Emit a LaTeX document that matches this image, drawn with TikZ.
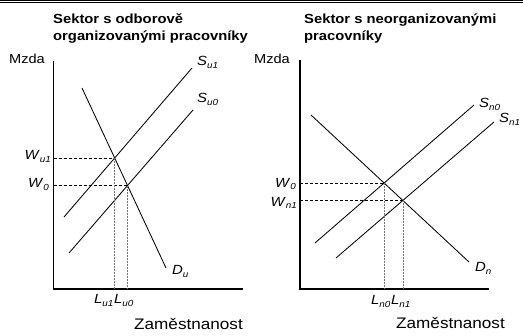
\documentclass[tikz,border=0pt]{standalone}
\usepackage{fontspec}
\usepackage{graphicx}
\setmainfont{Liberation Sans}
\usetikzlibrary{intersections}
\newcommand\hs[1]{\scalebox{1.12}[1]{#1}}
\newcommand\lbl[2]{\hs{\textit{#1}\raisebox{-0.3ex}{\fontsize{8.8}{8.8}\selectfont\textit{#2}}}}
\tikzset{
  curve/.style={line width=0.85pt,black},
  axisthin/.style={line width=1.3pt,black},
  axisthick/.style={line width=2.2pt,black},
  hdash/.style={line width=0.6pt,black,dash pattern=on 3pt off 2pt},
  vdash/.style={line width=0.7pt,black!55,dash pattern=on 2pt off 1pt},
  lab/.style={inner sep=0pt,font=\fontsize{13.3}{13.3}\selectfont},
  axlab/.style={inner sep=0pt,font=\fontsize{13}{13}\selectfont},
  xlab/.style={inner sep=0pt,font=\fontsize{15.3}{15.3}\selectfont},
  ttl/.style={inner sep=0pt,font=\fontsize{13.2}{13.2}\selectfont\bfseries,anchor=base west},
}
\begin{document}
\begin{tikzpicture}[x=1pt,y=-1pt]
\useasboundingbox[fill=white] (0,0) rectangle (523,336);
% top double rule
\draw[line width=1.4pt] (0,0.7) -- (523,0.7);
\draw[line width=0.5pt] (0,2.6) -- (523,2.6);

% ===== Left panel =====
\node[ttl] (t1a) at (53,24) {\hs{Sektor s odborově}};
\node[ttl] (t1b) at (53,41) {\hs{organizovanými pracovníky}};
\node[axlab,anchor=base west] (mzL) at (9,63.5) {\hs{Mzda}};
\node[xlab,anchor=base east] (zaL) at (243,330) {\hs{Zaměstnanost}};

\coordinate (oL) at (53.5,289);
\coordinate (yL) at (53.5,61);
\coordinate (xL) at (243,289);
\draw[axisthin] (yL) -- (oL) -- (xL);

\coordinate (du1) at (82,88);   \coordinate (du2) at (166,268);
\coordinate (su1a) at (64,217); \coordinate (su1b) at (192,68);
\coordinate (su0a) at (69,253); \coordinate (su0b) at (193,110);
\draw[curve,name path=Du] (du1) -- (du2);
\draw[curve,name path=Su1] (su1a) -- (su1b);
\draw[curve,name path=Su0] (su0a) -- (su0b);
\path[name intersections={of=Du and Su1,by=E1}];
\path[name intersections={of=Du and Su0,by=E0}];
\draw[hdash] (E1 -| oL) -- (E1);
\draw[hdash] (E0 -| oL) -- (E0);
\draw[vdash] (E1) -- (E1 |- oL);
\draw[vdash] (E0) -- (E0 |- oL);

\node[lab,anchor=base west] (lsu1) at (197,66) {\lbl{S}{u1}};
\node[lab,anchor=base west] (lsu0) at (197,103) {\lbl{S}{u0}};
\node[lab,anchor=base west] (ldu) at (172,275) {\lbl{D}{u}};
\node[lab,anchor=base east] (lwu1) at (51,160) {\lbl{W}{u1}};
\node[lab,anchor=base east] (lw0L) at (49,188) {\lbl{W}{0}};
\node[lab,anchor=base west] (llu1) at (94,304) {\lbl{L}{u1}};
\node[lab,anchor=base west] (llu0) at (114,304) {\lbl{L}{u0}};

% ===== Right panel =====
\node[ttl] (t2a) at (304,24) {\hs{Sektor s neorganizovanými}};
\node[ttl] (t2b) at (304,41) {\hs{pracovníky}};
\node[axlab,anchor=base east] (mzR) at (290,63.5) {\hs{Mzda}};
\node[xlab,anchor=base east] (zaR) at (505,329) {\hs{Zaměstnanost}};

\coordinate (oR) at (300,289);
\coordinate (yR) at (300,60);
\coordinate (xR) at (489,289);
\draw[axisthick] (yR) -- (oR) -- (xR);

\coordinate (dn1) at (311,115);  \coordinate (dn2) at (469,262);
\coordinate (sn0a) at (315,243); \coordinate (sn0b) at (474,105);
\coordinate (sn1a) at (336,258); \coordinate (sn1b) at (494,122);
\draw[curve,name path=Dn] (dn1) -- (dn2);
\draw[curve,name path=Sn0] (sn0a) -- (sn0b);
\draw[curve,name path=Sn1] (sn1a) -- (sn1b);
\path[name intersections={of=Dn and Sn0,by=F0}];
\path[name intersections={of=Dn and Sn1,by=F1}];
\draw[hdash] (F0 -| oR) -- (F0);
\draw[hdash] (F1 -| oR) -- (F1);
\draw[vdash] (F0) -- (F0 |- oR);
\draw[vdash] (F1) -- (F1 |- oR);

\node[lab,anchor=base west] (lsn0) at (479,108) {\lbl{S}{n0}};
\node[lab,anchor=base west] (lsn1) at (499,123) {\lbl{S}{n1}};
\node[lab,anchor=base west] (ldn) at (475,272) {\lbl{D}{n}};
\node[lab,anchor=base east] (lw0R) at (296,187.5) {\lbl{W}{0}};
\node[lab,anchor=base east] (lwn1) at (297,206.5) {\lbl{W}{n1}};
\node[lab,anchor=base west] (lln0) at (371,305) {\lbl{L}{n0}};
\node[lab,anchor=base west] (lln1) at (391,305) {\lbl{L}{n1}};
\end{tikzpicture}
\end{document}
